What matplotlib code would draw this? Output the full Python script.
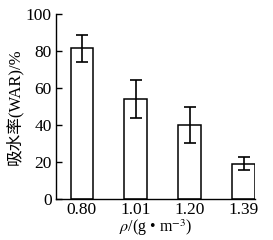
import matplotlib.pyplot as plt

plt.rcParams['font.family'] = ['Liberation Serif', 'Noto Sans CJK SC']
plt.rcParams['mathtext.fontset'] = 'stix'

# data
densities = ['0.80', '1.01', '1.20', '1.39']
war = [81.5, 54, 40, 19]
war_err = [7.3, 10.5, 9.5, 3.5]

fig = plt.figure(figsize=(2.73, 2.4), dpi=100)
ax = fig.add_axes([0.205, 0.171, 0.729, 0.771])

x = range(len(densities))
ax.bar(x, war, width=0.42, color='white', edgecolor='black', linewidth=1.1)
ax.errorbar(x, war, yerr=war_err, fmt='none', ecolor='black',
            elinewidth=1.2, capsize=4, capthick=1.2)

ax.set_xlim(-0.48, 3.21)
ax.set_ylim(0, 100)
ax.set_yticks([0, 20, 40, 60, 80, 100])
ax.set_xticks(list(x))
ax.set_xticklabels(densities)
ax.tick_params(axis='y', direction='in', length=4, width=1, labelsize=12.5, pad=3)
ax.tick_params(axis='x', length=0, labelsize=12.5, pad=2)
ax.spines['top'].set_visible(False)
ax.spines['right'].set_visible(False)
ax.spines['left'].set_linewidth(1)
ax.spines['bottom'].set_linewidth(1)

ax.set_ylabel('吸水率(WAR)/%', fontsize=12, labelpad=2)
ax.set_xlabel(r'$\rho$/(g • m$^{-3}$)', fontsize=11.5, labelpad=0)

plt.savefig('out.png', dpi=100)
